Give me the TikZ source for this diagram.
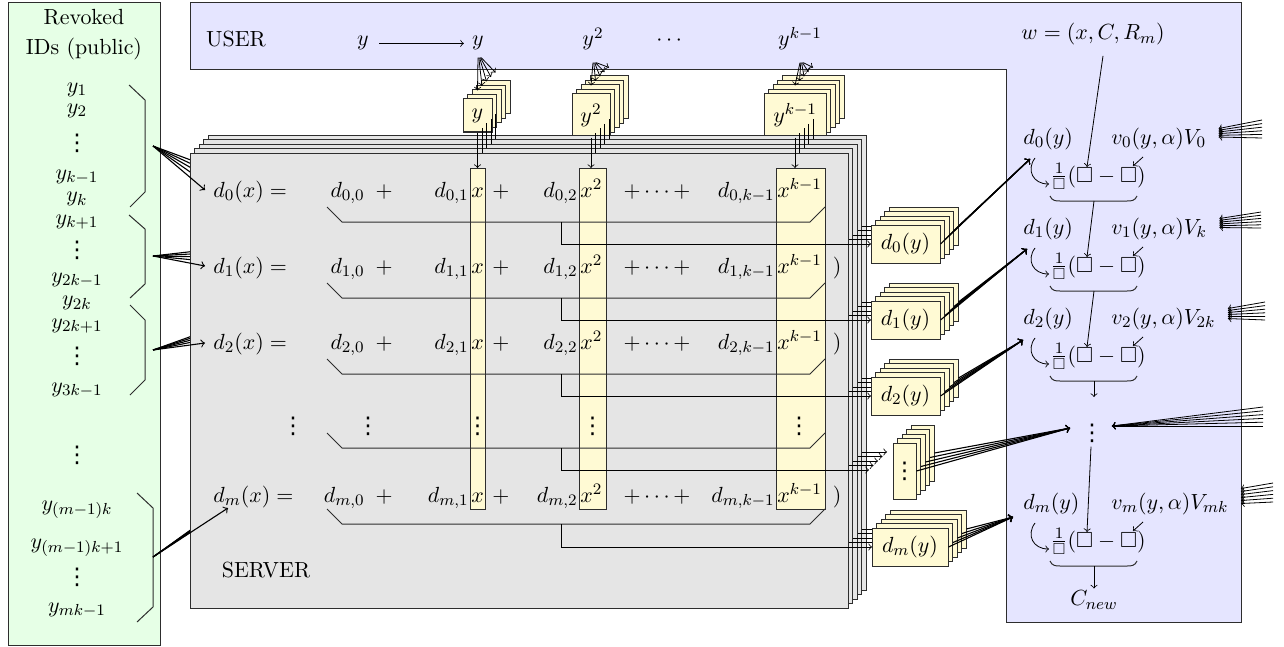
\documentclass[tikz,border=0pt]{standalone}
\usepackage{amsmath,amssymb}
\usepackage{fontspec}
\newfontfamily\dvs{DejaVu Sans}
\usetikzlibrary{calc}
\definecolor{greenbg}{RGB}{230,255,230}
\definecolor{userbg}{RGB}{229,229,255}
\definecolor{servbg}{RGB}{229,229,229}
\definecolor{ybg}{RGB}{255,250,212}
\definecolor{edgec}{RGB}{45,45,45}
\newcommand{\vdts}{{\dvs\fontsize{11.5}{11.5}\selectfont ⋮}}
\begin{document}
\fontsize{10.95}{13}\selectfont
\begin{tikzpicture}[x=0.5pt,y=-0.5pt,
  every node/.style={inner sep=1pt},
  frame/.style={draw=edgec, line width=0.5pt},
  layer/.style={draw=edgec, fill=servbg, line width=0.5pt},
  ybox/.style={draw=edgec, fill=ybg, line width=0.5pt, inner sep=0pt},
  colbox/.style={draw=edgec, fill=ybg, line width=0.5pt, inner sep=0pt, minimum height=170.5pt},
  dybox/.style={draw=edgec, fill=ybg, line width=0.5pt, inner sep=0pt, minimum height=19pt},
  brk/.style={draw=edgec, line width=0.5pt},
  conn/.style={->, line width=0.4pt},
  fanl/.style={->, line width=0.55pt}
]
\useasboundingbox (0,0) rectangle (1284,647);

% ---------------- revoked IDs ----------------
\draw[frame, fill=greenbg] (8,3) rectangle (160,645);
\node[align=center] (revt) at (84,35) {Revoked\\[2pt]IDs (public)};
\node (r1) at (77,90) {$y_1$};
\node (r2) at (77,111) {$y_2$};
\node (r3) at (77,143) {\vdts};
\node (r4) at (77,177) {$y_{k-1}$};
\node (r5) at (77,199) {$y_k$};
\node (r6) at (77,222) {$y_{k+1}$};
\node (r7) at (77,250) {\vdts};
\node (r8) at (77,280) {$y_{2k-1}$};
\node (r9) at (77,303) {$y_{2k}$};
\node (r10) at (77,326) {$y_{2k+1}$};
\node (r11) at (77,356) {\vdts};
\node (r12) at (77,390) {$y_{3k-1}$};
\node (r13) at (77,455) {\vdts};
\node (r14) at (77,510) {$y_{(m-1)k}$};
\node (r15) at (77,548) {$y_{(m-1)k+1}$};
\node (r16) at (77,577) {\vdts};
\node (r17) at (77,610) {$y_{mk-1}$};
\draw[brk] (129,85) -- (145,100) -- (145,192) -- (130,207);
\draw[brk] (129,215) -- (145,229) -- (145,284) -- (130,298);
\draw[brk] (130,305) -- (145,320) -- (145,380) -- (130,395);
\draw[brk] (137,493) -- (153,508) -- (153,607) -- (137,622);
\coordinate (bs0) at (153,146);
\coordinate (bs1) at (153,256);
\coordinate (bs2) at (153,350);
\coordinate (bsm) at (153,557);

% ---------------- USER ----------------
\draw[frame, fill=userbg] (190,3) -- (1241,3) -- (1241,622) -- (1006,622) -- (1006,70) -- (190,70) -- cycle;
\node[anchor=base] (user) at (236,47) {USER};
\node[anchor=base] (uy0) at (363,46) {$y$};
\node[anchor=base] (uy1) at (478,46) {$y$};
\node[anchor=base] (uy2) at (593,46) {$y^2$};
\node[anchor=base] (udots) at (671,46) {$\cdots$};
\node[anchor=base] (uy3) at (800,46) {$y^{k-1}$};
\draw[->, line width=0.4pt, shorten <=4pt, shorten >=3pt] (uy0) -- (uy1);
\node[anchor=base] (wnode) at (1093,40) {$w = (x, C, R_m)$};

% ---------------- y stacks ----------------
\foreach \j in {4,3,2,1,0}{
  \pgfmathsetmacro\dd{4.5*\j}
  \node[ybox, minimum width=14.5pt, minimum height=16.5pt] (ya-\j) at (477.5+\dd,115.5-\dd) {\ifnum\j=0 $y$\fi};
  \node[ybox, minimum width=19pt, minimum height=21.5pt] (yb-\j) at (591+\dd,115.5-\dd) {\ifnum\j=0 $y^2$\fi};
  \node[ybox, minimum width=31pt, minimum height=21.5pt] (yc-\j) at (795+\dd,115.5-\dd) {\ifnum\j=0 $y^{k-1}$\fi};
}
\foreach \j in {0,1,2,3,4}{
  \draw[conn] ($(uy1.south)+(0.8*\j,5)$) -- ($(ya-\j.north)+(0,-8)$);
  \draw[conn] ($(uy2.south)+(0.8*\j,10)$) -- ($(yb-\j.north)+(0,-8)$);
  \draw[conn] ($(uy3.south)+(0.8*\j,10)$) -- ($(yc-\j.north)+(0,-8)$);
}

% ---------------- server coordinates ----------------
\coordinate (cAt) at (477.5,168);
\coordinate (cBt) at (591,168);
\coordinate (cCt) at (795,168);
\coordinate (L0) at (561,222);
\coordinate (L1) at (561,298);
\coordinate (L2) at (561,374);
\coordinate (L3) at (561,448);
\coordinate (L4) at (561,524);
\coordinate (dyw0) at (871,244);
\coordinate (dyw1) at (871,320);
\coordinate (dyw2) at (871,396);
\coordinate (dyw3) at (869,470);
\coordinate (dyw4) at (872,547);
\coordinate (ft0) at (205,190);
\coordinate (ft1) at (205,266);
\coordinate (ft2) at (205,343);
\coordinate (ftm) at (228,508);

% ---------------- back server layers ----------------
\foreach \j in {4,3,2,1}{
  \pgfmathsetmacro\dd{4.5*\j}
  \draw[layer] (190+\dd,153-\dd) rectangle (848+\dd,608-\dd);
  \draw[conn] (ya-\j.south) -- ($(cAt)+(\dd,-\dd)$);
  \draw[conn] (yb-\j.south) -- ($(cBt)+(\dd,-\dd)$);
  \draw[conn] (yc-\j.south) -- ($(cCt)+(\dd,-\dd)$);
  \draw[fanl] (bs0) -- ($(ft0)+(\dd,-\dd)$);
  \draw[fanl] (bs1) -- ($(ft1)+(\dd,-\dd)$);
  \draw[fanl] (bs2) -- ($(ft2)+(\dd,-\dd)$);
  \draw[fanl] (bsm) -- ($(ftm)+(\dd,-\dd)$);
  \foreach \k in {0,1,2,3,4}{
    \draw[conn] ($(L\k)+(\dd,-\dd)$) |- ($(dyw\k)+(\dd,-\dd)$);
  }
}

% ---------------- front server layer ----------------
\draw[layer] (190,153) rectangle (848,608);
\node[colbox, minimum width=7.5pt] (colA) at (477.5,338.5) {};
\node[colbox, minimum width=13.5pt] (colB) at (592.5,338.5) {};
\node[colbox, minimum width=24.5pt] (colC) at (800.5,338.5) {};
\foreach \rb/\ri in {197/0,273/1,349/2,502/m}{
  \node[anchor=base west] (lhs\ri) at (211,\rb) {$d_\ri(x) =$};
  \node[anchor=base east] (ca\ri) at (395,\rb) {$d_{\ri,0}\mskip9mu{+}$};
  \node[anchor=base east] (cb\ri) at (471,\rb) {$d_{\ri,1}$};
  \node[anchor=base west] (xa\ri) at (469,\rb) {$x$};
  \node[anchor=base] (pa\ri) at (501,\rb) {$+$};
  \node[anchor=base east] (cc\ri) at (580,\rb) {$d_{\ri,2}$};
  \node[anchor=base west] (xb\ri) at (578,\rb) {$x^2$};
  \node[anchor=base] (pb\ri) at (657,\rb) {$+\cdots+$};
  \node[anchor=base east] (cd\ri) at (777,\rb) {$d_{\ri,k-1}$};
  \node[anchor=base west] (xc\ri) at (775,\rb) {$x^{k-1}$};
}
\node[anchor=base] (rp1) at (837,273) {$)$};
\node[anchor=base] (rp2) at (837,349) {$)$};
\node[anchor=base] (rpm) at (837,502) {$)$};
\node (vd1) at (293,426) {\vdts};
\node (vd2) at (368,426) {\vdts};
\node (vd3) at (477.5,426) {\vdts};
\node (vd4) at (592.5,426) {\vdts};
\node (vd5) at (799,426) {\vdts};
\node (server) at (266,570) {SERVER};
\foreach \t in {207,283,359,433,509}{
  \draw[brk] (327,\t) -- (342,\t+15) -- (810,\t+15) -- (825,\t);
}
\draw[conn] (ya-0.south) -- (cAt);
\draw[conn] (yb-0.south) -- (cBt);
\draw[conn] (yc-0.south) -- (cCt);
\draw[fanl] (bs0) -- (ft0);
\draw[fanl] (bs1) -- (ft1);
\draw[fanl] (bs2) -- (ft2);
\draw[fanl] (bsm) -- (ftm);
\foreach \k in {0,1,2,3,4}{
  \draw[conn] (L\k) |- (dyw\k);
}

% ---------------- right panel ----------------
\foreach \rk/\ry/\rV in {0/138/V_0,1/228/V_k,2/318/V_{2k},m/503/V_{mk}}{
  \node[anchor=base west] (pd\rk) at (1021,\ry+6) {$d_\rk(y)$};
  \node[anchor=base west] (pv\rk) at (1109,\ry+6) {$v_\rk(y,\alpha)\rV$};
  \node[anchor=base] (fr\rk) at (1098,\ry+44) {$\frac{1}{\square}(\square-\square)$};
  \coordinate (sqa\rk) at ($(fr\rk.base)+(-11,-15)$);
  \coordinate (bm\rk) at ($(fr\rk.base)+(-4,19)$);
  \draw[conn] ($(fr\rk.base)+(-63,-24)$) .. controls ($(fr\rk.base)+(-72,-12)$) and ($(fr\rk.base)+(-65,2)$) .. ($(fr\rk.base)+(-49,2)$);
  \draw[conn] ($(fr\rk.base)+(45,-25)$) -- ($(fr\rk.base)+(35,-16)$);
  \draw[brk] ($(fr\rk.base)+(-48,14)$) .. controls ($(fr\rk.base)+(-46,19)$) and ($(fr\rk.base)+(-42,19)$) .. ($(fr\rk.base)+(-38,19)$) -- ($(fr\rk.base)+(29,19)$) .. controls ($(fr\rk.base)+(33,19)$) and ($(fr\rk.base)+(37,19)$) .. ($(fr\rk.base)+(39,14)$);
}
\node (pdots) at (1092,433) {\vdts};
\node (cnew) at (1094,600) {$C_{new}$};
\draw[conn] ($(wnode.south)+(10,8)$) -- (sqa0);
\draw[conn] (bm0) -- (sqa1);
\draw[conn] (bm1) -- (sqa2);
\draw[conn] (bm2) -- ($(bm2)+(0,16)$);
\draw[conn] ($(pdots.south)+(-1,2)$) -- (sqam);
\draw[conn] (bmm) -- (cnew.north);

\coordinate (pt0) at ($(pd0.base west)+(9,15)$);
\coordinate (pt1) at ($(pd1.base west)+(6,15)$);
\coordinate (pt2) at ($(pd2.base west)+(2,16)$);
\coordinate (pt3) at ($(pdots.west)+(-8,-5)$);
\coordinate (pt4) at ($(pdm.base west)+(-8,8)$);

% ---------------- d(y) stacks ----------------
\foreach \j in {4,3,2,1,0}{
  \pgfmathsetmacro\dd{4.5*\j}
  \node[dybox, minimum width=34.5pt] (dya-\j) at (905.5+\dd,244-\dd) {\ifnum\j=0 $d_0(y)$\fi};
  \draw[fanl] (dya-\j.east) -- (pt0);
  \node[dybox, minimum width=34.5pt] (dyb-\j) at (905.5+\dd,320-\dd) {\ifnum\j=0 $d_1(y)$\fi};
  \draw[fanl] (dyb-\j.east) -- (pt1);
  \node[dybox, minimum width=34.5pt] (dyc-\j) at (905.5+\dd,396-\dd) {\ifnum\j=0 $d_2(y)$\fi};
  \draw[fanl] (dyc-\j.east) -- (pt2);
  \node[dybox, minimum width=11.5pt, minimum height=28pt] (dyd-\j) at (904.5+\dd,471-\dd) {\ifnum\j=0 \vdts\fi};
  \draw[fanl] (dyd-\j.east) -- (pt3);
  \node[dybox, minimum width=38pt] (dye-\j) at (910+\dd,547-\dd) {\ifnum\j=0 $d_m(y)$\fi};
  \draw[fanl] (dye-\j.east) -- (pt4);
}

% ---------------- right fans ----------------
\foreach \i in {0,1,2,3,4,5}{
  \coordinate (rs0-\i) at (1262,120+3.6*\i);
  \draw[conn] (rs0-\i) -- ($(pv0.east)+(10,-10+1.7*\i)$);
  \coordinate (rs1-\i) at (1261,212+3.2*\i);
  \draw[conn] (rs1-\i) -- ($(pv1.east)+(10,-10+1.8*\i)$);
  \coordinate (rs2-\i) at (1265,302+3.6*\i);
  \draw[conn] (rs2-\i) -- ($(pv2.east)+(10,-10+2*\i)$);
  \coordinate (rs3-\i) at (1263,407+3.8*\i);
  \draw[conn] (rs3-\i) -- ($(pdots.east)+(6,-7)$);
  \coordinate (rs4-\i) at (1273,483+3.8*\i);
  \draw[conn] (rs4-\i) -- ($(pvm.east)+(10,-15+3*\i)$);
}
\end{tikzpicture}
\end{document}
